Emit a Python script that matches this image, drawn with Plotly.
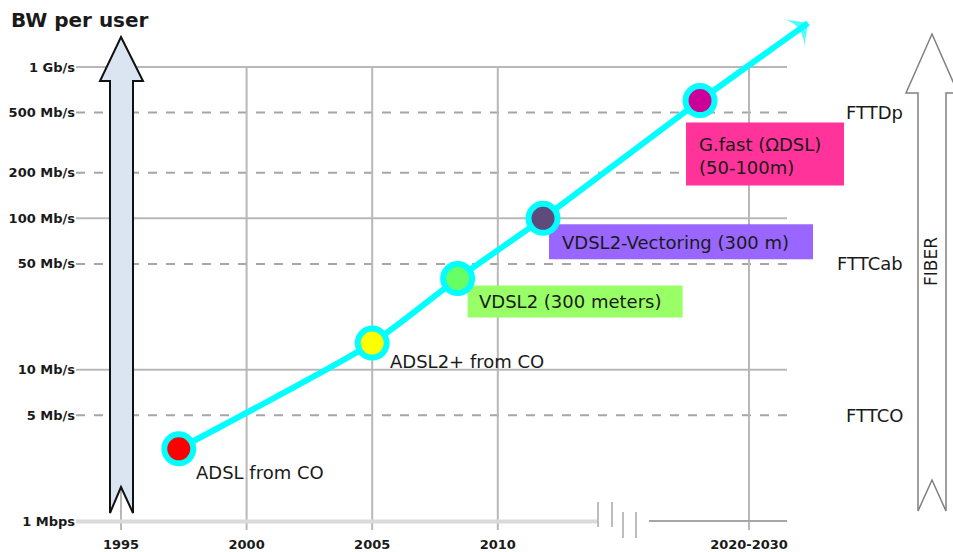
import math
import plotly.graph_objects as go

# --- data -------------------------------------------------------------
tech = ["ADSL from CO", "ADSL2+ from CO", "VDSL2 (300 meters)",
        "VDSL2-Vectoring (300 m)", "G.fast (ΩDSL)<br>(50-100m)"]
year = [1997.3, 2005.0, 2008.4, 2011.8, 2018.05]
bw_mbps = [3, 15, 40, 100, 600]
dot_colors = ["#ff0000", "#ffff00", "#66ff66", "#5f4b7b", "#cc0099"]
box_colors = [None, None, "#99ff66", "#9966ff", "#ff3399"]

# trend continues past the last technology
trend_year = year + [2022.35]
trend_bw = bw_mbps + [1950]

y_ticks = [1, 5, 10, 50, 100, 200, 500, 1000]
y_tick_text = ["1 Mbps", "5 Mb/s", "10 Mb/s", "50 Mb/s", "100 Mb/s",
               "200 Mb/s", "500 Mb/s", "1 Gb/s"]
x_ticks = [1995, 2000, 2005, 2010, 2020]
x_tick_text = ["1995", "2000", "2005", "2010", "2020-2030"]

access = ["FTTDp", "FTTCab", "FTTCO"]
access_bw = [500, 50, 5]

# --- geometry -----------------------------------------------------------
W, H = 953, 552
L, R, T, B = 76, 850, 15, 532           # plot area in pixels
X_ORIGIN_PX, PX_PER_YEAR = 121, 25.12    # 1995 sits at x = 121 px
Y_ORIGIN_PX, PX_PER_DECADE = 521, 151.33  # 1 Mb/s sits at y = 521 px
x_range = [1995 - (X_ORIGIN_PX - L) / PX_PER_YEAR,
           1995 + (R - X_ORIGIN_PX) / PX_PER_YEAR]
y_range = [-(B - Y_ORIGIN_PX) / PX_PER_DECADE,
           (Y_ORIGIN_PX - T) / PX_PER_DECADE]
x_grid_end = 1995 + (787 - X_ORIGIN_PX) / PX_PER_YEAR


def px(xp):
    return (xp - L) / (R - L)


def py(yp):
    return (B - yp) / (B - T)


def poly(points):
    return "M" + " L".join(f"{px(a):.5f},{py(b):.5f}" for a, b in points) + " Z"


def shift_x(xv, dpx):
    """Year value dpx pixels to the right of xv."""
    return xv + dpx / PX_PER_YEAR


def shift_y(v, dpx):
    """Bandwidth value dpx pixels above v on the log axis."""
    return v * 10 ** (dpx / PX_PER_DECADE)


FONT = "DejaVu Sans"
INK = "#1a1a1a"
CYAN = "#00ffff"
GRID = "#b8b8b8"

fig = go.Figure()

# trend line through the technologies
fig.add_trace(go.Scatter(
    x=trend_year, y=trend_bw, mode="lines",
    line=dict(color=CYAN, width=6, shape="spline", smoothing=0.6),
    hoverinfo="skip"))
# arrow head at the end of the trend
fig.add_trace(go.Scatter(
    x=trend_year[-2:], y=trend_bw[-2:], mode="markers",
    marker=dict(symbol=["circle", "arrow-wide"], size=[0, 26], color=CYAN,
                angleref="previous", line=dict(width=0)),
    hoverinfo="skip"))
# technology dots
fig.add_trace(go.Scatter(
    x=year, y=bw_mbps, mode="markers", text=tech,
    marker=dict(size=29, color=dot_colors, line=dict(color=CYAN, width=6)),
    hoverinfo="text"))

shapes = []
# horizontal guides
for v in y_ticks[1:]:
    solid = math.log10(v).is_integer()
    shapes.append(dict(type="line", xref="x", yref="y", layer="below",
                       x0=x_range[0], x1=x_grid_end, y0=v, y1=v,
                       line=dict(color=GRID if solid else "#a6a6a6", width=2,
                                 dash="solid" if solid else "dash")))
# vertical guides
for yr in x_ticks:
    shapes.append(dict(type="line", xref="x", yref="y", layer="below",
                       x0=yr, x1=yr, y0=10 ** (-9 / PX_PER_DECADE), y1=1000,
                       line=dict(color=GRID, width=2)))

# coloured label boxes next to their technology dot (pixel offsets: left, right, top, bottom)
box_offsets = [None, None, (10, 225, -7, -39), (6, 270, -6, -41), (-14, 144, -22, -85)]
for xv, v, bg, off in zip(year, bw_mbps, box_colors, box_offsets):
    if bg is None:
        continue
    shapes.append(dict(type="rect", xref="x", yref="y", layer="below",
                       x0=shift_x(xv, off[0]), x1=shift_x(xv, off[1]),
                       y0=shift_y(v, off[2]), y1=shift_y(v, off[3]),
                       fillcolor=bg, line=dict(width=0)))

# time axis with a break before 2020-2030
shapes.append(dict(type="line", xref="paper", yref="paper",
                   x0=0, x1=px(598), y0=py(521.5), y1=py(521.5),
                   line=dict(color="#dadada", width=4)))
shapes.append(dict(type="line", xref="paper", yref="paper",
                   x0=px(649), x1=px(787), y0=py(521), y1=py(521),
                   line=dict(color="#a6a6a6", width=2)))
for xb, top, bot in [(598, 502, 527), (612, 502, 527), (623, 512, 538), (636, 512, 538)]:
    shapes.append(dict(type="line", xref="paper", yref="paper",
                       x0=px(xb), x1=px(xb), y0=py(top), y1=py(bot),
                       line=dict(color="#bdbdbd", width=2)))

# bandwidth arrow on the left
shapes.append(dict(type="path", xref="paper", yref="paper", layer="above",
                   path=poly([(121, 37), (143, 81), (133, 81), (133, 513),
                              (121, 487), (110, 513), (110, 81), (100, 81)]),
                   fillcolor="#dbe5f1", line=dict(color="#111111", width=2)))
# fiber arrow on the right
shapes.append(dict(type="path", xref="paper", yref="paper", layer="above",
                   path=poly([(932, 34), (958, 93), (946, 93), (946, 511),
                              (932, 480), (918, 511), (918, 93), (906, 93)]),
                   fillcolor="#ffffff", line=dict(color="#808080", width=1.5)))

annotations = []
# technology labels, placed relative to their dot
label_shift = [(15, -24), (16, -18), (19, -23), (17, -24), (-3, -55)]
for name, xv, v, (dx, dy) in zip(tech, year, bw_mbps, label_shift):
    annotations.append(dict(x=xv, y=math.log10(v), xref="x", yref="y", text=name,
                            showarrow=False, xanchor="left", yanchor="middle",
                            align="left", xshift=dx, yshift=dy,
                            font=dict(family=FONT, size=18, color=INK)))

# access architecture labels
for name, v in zip(access, access_bw):
    annotations.append(dict(x=px(905), y=math.log10(v), xref="paper", yref="y",
                            text=name, showarrow=False, xanchor="right",
                            font=dict(family=FONT, size=18, color=INK)))
annotations.append(dict(x=px(943), y=py(262), xref="paper", yref="paper",
                        text="FIBER", textangle=-90, showarrow=False,
                        font=dict(family=FONT, size=17, color=INK)))
annotations.append(dict(x=px(9), y=py(20), xref="paper", yref="paper",
                        text="<b>BW per user</b>", showarrow=False,
                        xanchor="left", yanchor="middle",
                        font=dict(family=FONT, size=20, color=INK)))

fig.update_layout(
    width=W, height=H,
    margin=dict(l=L, r=W - R, t=T, b=H - B, autoexpand=False),
    paper_bgcolor="white", plot_bgcolor="white",
    showlegend=False,
    shapes=shapes, annotations=annotations,
    xaxis=dict(range=x_range, showgrid=False, zeroline=False, showline=False,
               tickvals=x_ticks, ticktext=x_tick_text, ticks="",
               ticklabelstandoff=3,
               tickfont=dict(family=FONT, size=13, color=INK, weight="bold")),
    yaxis=dict(type="log", range=y_range, showgrid=False, zeroline=False,
               showline=False, tickvals=y_ticks, ticktext=y_tick_text, ticks="",
               ticklabelstandoff=0,
               tickfont=dict(family=FONT, size=13, color=INK, weight="bold")),
)

fig.write_html("out.html")
